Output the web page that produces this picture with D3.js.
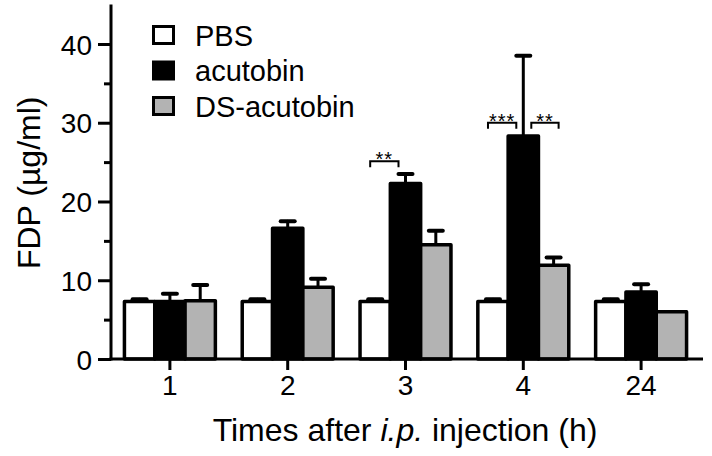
<!DOCTYPE html>
<html>
<head>
<meta charset="utf-8">
<script src="https://cdn.jsdelivr.net/npm/d3@7"></script>
<style>
  body { margin: 0; background: #fff; }
  text { font-family: "Liberation Sans", Arial, sans-serif; fill: #000; }
</style>
</head>
<body>
<div id="chart"></div>
<script>
// data
var categories = ["1", "2", "3", "4", "24"];
var seriesNames = ["PBS", "acutobin", "DS-acutobin"];
var pbs      = [7.3, 7.3, 7.3, 7.3, 7.3];
var pbsErr   = [0.3, 0.3, 0.3, 0.3, 0.3];
var acutobin = [7.3, 16.6, 22.3, 28.3, 8.5];
var acuErr   = [1.0, 0.9, 1.2, 10.2, 1.0];
var dsAcu    = [7.4, 9.1, 14.5, 11.9, 6.0];
var dsErr    = [2.0, 1.1, 1.8, 1.0, 0];
var yTicks   = [0, 10, 20, 30, 40];
var yMinor   = [5, 15, 25, 35];
// significance marks: group, pair of series, height, label
var signif = [
    { group: "3", a: "PBS", b: "acutobin", y: 25.1, label: "**" },
    { group: "4", a: "PBS", b: "acutobin", y: 30.0, label: "***" },
    { group: "4", a: "acutobin", b: "DS-acutobin", y: 30.0, label: "**" }
];

var fills = { "PBS": "#fff", "acutobin": "#000", "DS-acutobin": "#b3b3b3" };
var values = { "PBS": pbs, "acutobin": acutobin, "DS-acutobin": dsAcu };
var errs = { "PBS": pbsErr, "acutobin": acuErr, "DS-acutobin": dsErr };

var W = 712, H = 456;
var mLeft = 111, mRight = 703, mTop = 4.6, mBottom = 359;

var svg = d3.select("#chart").append("svg")
    .attr("width", W).attr("height", H);

var x = d3.scaleBand().domain(categories)
    .range([mLeft, 700]).paddingInner(0.228).paddingOuter(0.114);
var x1 = d3.scaleBand().domain(seriesNames).range([0, x.bandwidth()]);
var y = d3.scaleLinear().domain([0, 45]).range([mBottom, mTop]);

// flatten into one row per bar
var rows = [];
categories.forEach(function(c, i) {
    seriesNames.forEach(function(s) {
        rows.push({ cat: c, series: s, v: values[s][i], e: errs[s][i] });
    });
});

// error bars first, so the bar outline sits on top
var eb = svg.append("g").attr("stroke", "#000").attr("stroke-linecap", "round");
rows.filter(function(d) { return d.e > 0; }).forEach(function(d) {
    var cx = x(d.cat) + x1(d.series) + x1.bandwidth() / 2;
    eb.append("line").attr("x1", cx).attr("x2", cx)
        .attr("y1", y(d.v)).attr("y2", y(d.v + d.e)).attr("stroke-width", 3);
    eb.append("line").attr("x1", cx - 7).attr("x2", cx + 7)
        .attr("y1", y(d.v + d.e)).attr("y2", y(d.v + d.e)).attr("stroke-width", 4);
});

svg.append("g").selectAll("rect").data(rows).enter().append("rect")
    .attr("x", function(d) { return x(d.cat) + x1(d.series); })
    .attr("y", function(d) { return y(d.v); })
    .attr("width", x1.bandwidth())
    .attr("height", function(d) { return y(0) - y(d.v); })
    .attr("fill", function(d) { return fills[d.series]; })
    .attr("stroke", "#000").attr("stroke-width", 3.5)
    .attr("stroke-linejoin", "round");

// axes
var yAxis = svg.append("g").attr("transform", "translate(" + mLeft + ",0)")
    .call(d3.axisLeft(y).tickValues(yTicks).tickSize(13).tickPadding(6));
var yMin = svg.append("g").attr("transform", "translate(" + mLeft + ",0)")
    .call(d3.axisLeft(y).tickValues(yMinor).tickSize(7).tickFormat(""));
var xAxis = svg.append("g").attr("transform", "translate(0," + mBottom + ")")
    .call(d3.axisBottom(x).tickSize(11).tickPadding(5));

[yAxis, yMin, xAxis].forEach(function(g) {
    g.select(".domain").remove();
    g.attr("font-size", null).attr("font-family", null);
    g.selectAll("line").attr("stroke", "#000").attr("stroke-width", 3);
    g.selectAll("text").style("font-size", "28px");
});
xAxis.selectAll("text").attr("dy", "0.71em");
yAxis.selectAll("text").attr("dy", "0.36em");

svg.append("line").attr("x1", mLeft).attr("x2", mLeft)
    .attr("y1", y(0) + 1.5).attr("y2", y(45))
    .attr("stroke", "#000").attr("stroke-width", 3);
svg.append("line").attr("x1", mLeft - 1.5).attr("x2", mRight)
    .attr("y1", mBottom).attr("y2", mBottom)
    .attr("stroke", "#000").attr("stroke-width", 3);

// axis titles
svg.append("text")
    .attr("transform", "translate(40," + ((mTop + mBottom) / 2 + 1) + ") rotate(-90)")
    .attr("text-anchor", "middle").style("font-size", "32px")
    .text("FDP (\u00b5g/ml)");

var xt = svg.append("text").attr("x", (mLeft + mRight) / 2 - 2).attr("y", 441)
    .attr("text-anchor", "middle").style("font-size", "32px");
xt.append("tspan").text("Times after ");
xt.append("tspan").style("font-style", "italic").text("i.p.");
xt.append("tspan").text(" injection (h)");

// legend
var lg = svg.append("g");
seriesNames.forEach(function(s, i) {
    var yy = 35 + i * 35.5;
    lg.append("rect").attr("x", 153.5).attr("y", yy - 8.5)
        .attr("width", 20).attr("height", 17)
        .attr("fill", fills[s]).attr("stroke", "#000").attr("stroke-width", 3);
    lg.append("text").attr("x", 195).attr("y", yy + 10.5)
        .style("font-size", "29px").text(s);
});

// significance brackets
var sg = svg.append("g");
signif.forEach(function(d) {
    var ca = x(d.group) + x1(d.a) + x1.bandwidth() / 2;
    var cb = x(d.group) + x1(d.b) + x1.bandwidth() / 2;
    var x0, x2;
    if (d.a === "PBS") { x0 = ca - 5; x2 = cb - 7; } else { x0 = ca + 8; x2 = cb + 5; }
    var yy = y(d.y);
    sg.append("path")
        .attr("d", "M" + x0 + "," + (yy + 6) + "V" + yy + "H" + x2 + "V" + (yy + 6))
        .attr("fill", "none").attr("stroke", "#000").attr("stroke-width", 2);
    sg.append("text").attr("x", (x0 + x2) / 2).attr("y", yy + 5)
        .attr("text-anchor", "middle").style("font-size", "20px")
        .style("letter-spacing", "1px").text(d.label);
});
</script>
</body>
</html>
